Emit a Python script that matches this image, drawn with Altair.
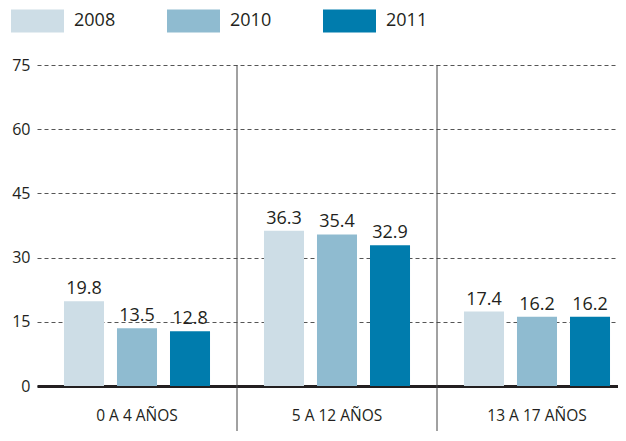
import altair as alt
import pandas as pd

groups = ["0 A 4 AÑOS", "5 A 12 AÑOS", "13 A 17 AÑOS"]
years = ["2008", "2010", "2011"]
v2008 = [19.8, 36.3, 17.4]
v2010 = [13.5, 35.4, 16.2]
v2011 = [12.8, 32.9, 16.2]
colors = ["#cddde6", "#8fbbd0", "#007cad"]
y_ticks = [0, 15, 30, 45, 60, 75]
separators = ["5 A 12 AÑOS", "13 A 17 AÑOS"]

rows = []
for yr, vals in zip(years, [v2008, v2010, v2011]):
    for g, v in zip(groups, vals):
        rows.append({"group": g, "year": yr, "value": v})
df = pd.DataFrame(rows)
sep_df = pd.DataFrame({"group": separators})

FONT = "Open Sans"
TXT = "#231f20"

xscale = alt.Scale(domain=groups, range=[0, 600], paddingInner=0, paddingOuter=0)
xoff = alt.XOffset("year:N", scale=alt.Scale(domain=years, paddingInner=0.245, paddingOuter=0.509))
yscale = alt.Scale(domain=[0, 75], nice=False, zero=True)

xaxis = alt.Axis(labelAngle=0, ticks=False, grid=False, domainWidth=3, bandPosition=0.5,
                 domainColor=TXT, labelFontSize=15.5, labelPadding=22,
                 labelColor=TXT, labelFont=FONT)
yaxis = alt.Axis(values=y_ticks, ticks=False, domain=False, grid=True,
                 gridDash=[4, 3], gridColor="#555555", gridWidth=1,
                 labelFontSize=16, labelPadding=7, labelColor=TXT, labelFont=FONT)

base = alt.Chart(df)

bars = base.mark_bar().encode(
    x=alt.X("group:N", scale=xscale, title=None, axis=xaxis),
    xOffset=xoff,
    y=alt.Y("value:Q", scale=yscale, title=None, axis=yaxis),
    color=alt.Color("year:N", scale=alt.Scale(domain=years, range=colors), title=None,
                    legend=alt.Legend(orient="none", legendX=-26, legendY=-71,
                                      direction="horizontal",
                                      symbolType="M-1,-0.434H1V0.434H-1Z",
                                      symbolSize=2809, symbolStrokeWidth=0,
                                      symbolOpacity=1,
                                      labelFontSize=18, labelOffset=10,
                                      labelColor=TXT, labelFont=FONT,
                                      columnPadding=51)),
)

labels = base.mark_text(baseline="bottom", dy=-3, fontSize=18, color=TXT, font=FONT).encode(
    x=alt.X("group:N", scale=xscale, title=None, axis=xaxis),
    xOffset=xoff,
    y=alt.Y("value:Q", scale=yscale, title=None, axis=yaxis),
    text=alt.Text("value:Q", format=".1f"),
)

seps = alt.Chart(sep_df).mark_rule(color="#444444", strokeWidth=1).encode(
    x=alt.X("group:N", scale=xscale, bandPosition=0, title=None, axis=xaxis),
    y=alt.datum(75, scale=yscale),
    y2=alt.value(420),
)

chart = alt.layer(bars, labels, seps).properties(
    width=581, height=321,
    autosize=alt.AutoSizeParams(type="none"),
    padding={"left": 29, "top": 57, "right": 0, "bottom": 45},
).configure(font=FONT).configure_view(strokeWidth=0)

chart.save("out.html", embed_options={"renderer": "svg", "actions": False})
